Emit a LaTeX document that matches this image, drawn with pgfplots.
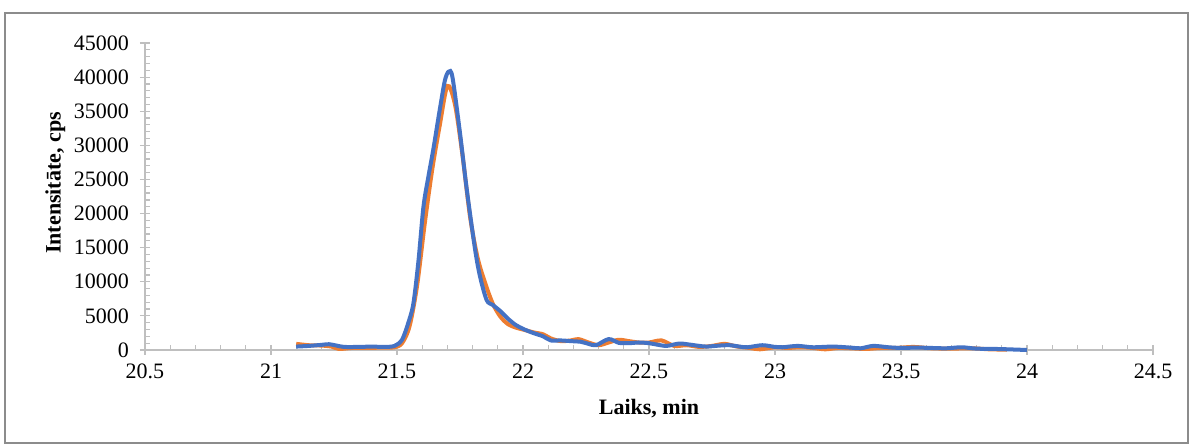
\documentclass[border=0pt]{standalone}
\usepackage{pgfplots}
\pgfplotsset{compat=1.18}
\usepackage{fontspec}
\setmainfont{Liberation Serif}
\definecolor{excelblue}{HTML}{4472C4}
\definecolor{excelorange}{HTML}{ED7D31}
\definecolor{axisgray}{HTML}{BFBFBF}
\definecolor{framegray}{HTML}{8C8C8C}

% orange series
\pgfplotstableread{
t I
21.10 900
21.15 700
21.20 650
21.24 500
21.27 150
21.32 300
21.38 300
21.44 350
21.49 400
21.52 1000
21.55 3500
21.58 9500
21.61 18500
21.64 26500
21.67 33000
21.70 38700
21.73 36000
21.76 28500
21.79 19500
21.82 13500
21.85 9800
21.88 6800
21.91 4900
21.94 3800
21.97 3300
22.00 3000
22.04 2600
22.08 2300
22.11 1700
22.15 1300
22.19 1400
22.22 1600
22.26 1100
22.30 700
22.34 1100
22.38 1500
22.42 1300
22.46 1100
22.50 1100
22.55 1400
22.60 600
22.65 700
22.70 450
22.75 600
22.80 900
22.85 500
22.90 300
22.94 100
23.00 400
23.05 300
23.10 400
23.15 300
23.20 100
23.25 300
23.30 250
23.36 150
23.42 300
23.48 300
23.55 450
23.62 250
23.70 200
23.78 250
23.85 100
23.92 50
}\orangedata

% blue series
\pgfplotstableread{
t I
21.10 500
21.15 600
21.20 750
21.23 850
21.26 650
21.29 450
21.35 450
21.40 500
21.45 450
21.49 600
21.52 1500
21.545 4000
21.565 6800
21.585 13000
21.605 21000
21.625 25500
21.645 29600
21.67 35300
21.69 39500
21.705 40800
21.72 40000
21.75 31800
21.777 23500
21.81 14700
21.83 10700
21.856 7300
21.88 6600
21.91 5700
21.94 4600
21.97 3700
22.00 3100
22.04 2500
22.08 2000
22.11 1400
22.15 1400
22.19 1300
22.23 1200
22.26 900
22.29 700
22.34 1600
22.38 1050
22.42 1000
22.46 1100
22.50 1000
22.53 800
22.57 600
22.62 950
22.66 800
22.70 600
22.73 500
22.78 650
22.82 700
22.86 500
22.89 400
22.95 700
23.00 450
23.03 400
23.09 600
23.15 400
23.23 500
23.30 350
23.34 250
23.39 600
23.45 400
23.50 300
23.56 350
23.62 300
23.68 250
23.74 400
23.80 200
23.88 150
23.94 80
24.00 0
}\bluedata

\begin{document}
\begin{tikzpicture}
\useasboundingbox (-72.5pt,-47pt) rectangle (522.5pt,175pt);
\draw[framegray, line width=0.6pt] (-70pt,-46.5pt) rectangle (521.5pt,168.5pt);
\begin{axis}[
  at={(0pt,0pt)}, anchor=south west,
  scale only axis, width=504pt, height=153.5pt,
  xmin=20.5, xmax=24.5, ymin=0, ymax=45000,
  axis x line*=bottom, axis y line*=left,
  axis line style={-, axisgray, line width=0.75pt},
  xtick={20.5,21,...,24.5}, ytick={0,5000,...,45000},
  minor x tick num=4, minor y tick num=4,
  tick align=center,
  major tick length=5pt, minor tick length=2.5pt,
  every tick/.style={axisgray, line width=0.6pt},
  every minor x tick/.append style={yshift=1.25pt},
  every minor y tick/.append style={xshift=1.25pt},
  scaled y ticks=false,
  /pgf/number format/assume math mode=true,
  /pgf/number format/1000 sep={},
  tick label style={font=\fontsize{11}{13}\selectfont, black},
  yticklabel style={xshift=-2pt},
  xticklabel style={yshift=-1pt},
  xlabel={Laiks, min}, ylabel={Intensitāte, cps},
  label style={font=\fontsize{11}{13}\selectfont\bfseries},
  xlabel style={at={(axis description cs:0.5,-0.192)}, anchor=center},
  ylabel style={at={(axis description cs:-0.089,0.544)}, anchor=center},
  clip=false,
]
\addplot[excelorange, line width=2pt, smooth, tension=0.5] table[x=t, y=I] {\orangedata};
\addplot[excelblue, line width=2pt, smooth, tension=0.5] table[x=t, y=I] {\bluedata};
\end{axis}
\end{tikzpicture}
\end{document}
